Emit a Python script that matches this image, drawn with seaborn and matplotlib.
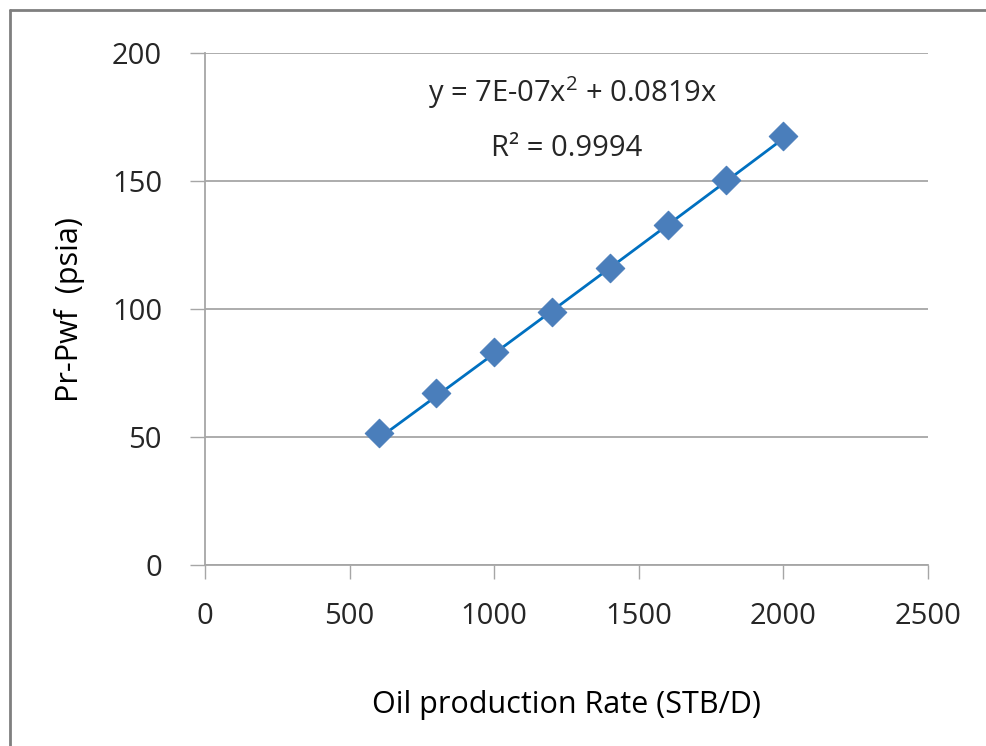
import numpy as np
import pandas as pd
import matplotlib
matplotlib.use("Agg")
import matplotlib.pyplot as plt
from matplotlib.lines import Line2D
import seaborn as sns

# Data
rate = [600, 800, 1000, 1200, 1400, 1600, 1800, 2000]
dp = [51.6, 67.2, 83.2, 98.8, 116.0, 132.8, 150.4, 167.6]
coef_a = 7e-07
coef_b = 0.0819
r2_text = "R² = 0.9994"
eq_text = r"y = 7E-07x$^{2}$ + 0.0819x"
x_ticks = [0, 500, 1000, 1500, 2000, 2500]
y_ticks = [0, 50, 100, 150, 200]
x_label = "Oil production Rate (STB/D)"
y_label = "Pr-Pwf  (psia)"

sns.set_theme(style="white")
plt.rcParams["font.family"] = ["Open Sans", "DejaVu Sans"]
plt.rcParams["mathtext.fontset"] = "custom"
plt.rcParams["mathtext.rm"] = "Open Sans"
plt.rcParams["mathtext.it"] = "Open Sans"

df = pd.DataFrame({"rate": rate, "dp": dp})

fig = plt.figure(figsize=(9.87, 7.46), dpi=100)
ax = fig.add_axes([205/987, 1-565/746, (928-205)/987, (565-53)/746])

grid_c = "#a6a6a6"
txt_c = "#262626"

# trendline
xt = np.linspace(min(rate), max(rate), 100)
yt = coef_a * xt**2 + coef_b * xt
ax.plot(xt, yt, color="#0070c0", lw=2.0, zorder=2)

sns.scatterplot(data=df, x="rate", y="dp", ax=ax, marker="D", s=210,
                color="#4a7ebb", edgecolor="#4a7ebb", linewidth=0.8, zorder=3)

ax.set_xlim(0, 2500)
ax.set_ylim(0, 200)
ax.set_xticks(x_ticks)
ax.set_yticks(y_ticks)
ax.yaxis.grid(True, color=grid_c, lw=1.3)
ax.set_axisbelow(True)
for s in ["top", "right"]:
    ax.spines[s].set_visible(False)
for s in ["left", "bottom"]:
    ax.spines[s].set_color(grid_c)
    ax.spines[s].set_linewidth(1.3)
ax.tick_params(axis="y", direction="out", length=11, width=1.0, color=grid_c,
               pad=20, labelsize=21, labelcolor=txt_c, left=True)
ax.tick_params(axis="x", direction="out", length=10, width=1.0, color=grid_c,
               pad=17, labelsize=21, labelcolor=txt_c, bottom=True)

ax.set_xlabel(x_label, fontsize=22, color="black")
ax.set_ylabel(y_label, fontsize=22, color="black")
ax.xaxis.set_label_coords((566-205)/723, -(690-565)/512)
ax.yaxis.set_label_coords(-(205-85)/723, (565-310)/512)

ax.text(1270, 184.5, eq_text, fontsize=21, color=txt_c, ha="center", va="center")
ax.text(1250, 162.5, r2_text, fontsize=21, color=txt_c, ha="center", va="center")

# outer frame (top and left)
fig.add_artist(Line2D([10/987, 1.0], [1-10/746, 1-10/746], color="#7f7f7f", lw=2.0, transform=fig.transFigure))
fig.add_artist(Line2D([10/987, 10/987], [0, 1-10/746], color="#7f7f7f", lw=2.0, transform=fig.transFigure))

fig.savefig("out.png", dpi=100)
